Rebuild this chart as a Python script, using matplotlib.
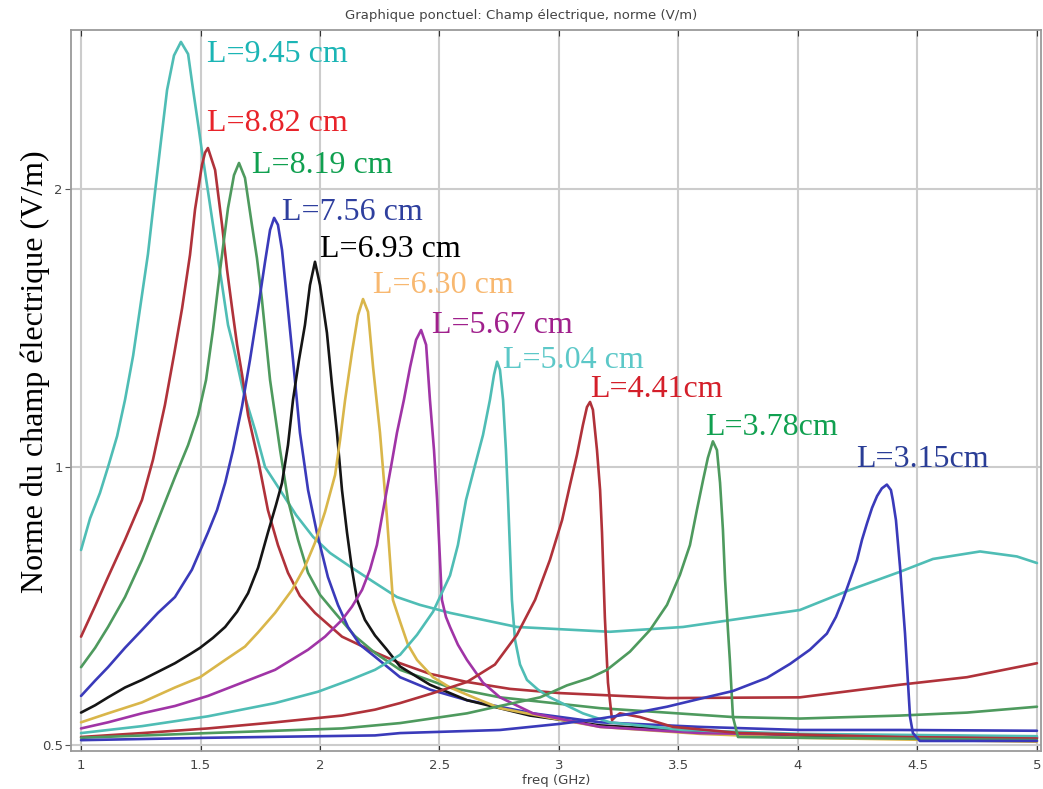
import matplotlib
matplotlib.use("Agg")
import matplotlib.pyplot as plt

# ---- data (freq in GHz, field norm in V/m) ----
f_945 = [1.000, 1.038, 1.079, 1.113, 1.151, 1.184, 1.218, 1.247, 1.280, 1.310, 1.335, 1.360, 1.389, 1.418,
         1.448, 1.469, 1.490, 1.510, 1.531, 1.552, 1.573, 1.594, 1.615, 1.636, 1.678, 1.728, 1.770, 1.833,
         1.900, 1.971, 2.042, 2.126, 2.230, 2.322, 2.418, 2.544, 2.824, 3.213, 3.519, 4.008, 4.218, 4.427,
         4.565, 4.762, 4.916, 5.000]
e_945 = [0.813, 0.880, 0.937, 1.000, 1.080, 1.182, 1.320, 1.486, 1.700, 1.990, 2.260, 2.560, 2.790, 2.886,
         2.800, 2.560, 2.350, 2.160, 1.990, 1.830, 1.685, 1.550, 1.425, 1.356, 1.210, 1.097, 1.000, 0.944,
         0.887, 0.840, 0.807, 0.780, 0.749, 0.723, 0.709, 0.695, 0.671, 0.663, 0.671, 0.700, 0.736, 0.770,
         0.795, 0.810, 0.800, 0.787]

f_882 = [1.000, 1.059, 1.113, 1.184, 1.255, 1.301, 1.351, 1.389, 1.423, 1.456, 1.477, 1.506, 1.519, 1.531,
         1.561, 1.590, 1.611, 1.632, 1.653, 1.674, 1.699, 1.741, 1.782, 1.824, 1.866, 1.916, 1.979, 2.092,
         2.230, 2.335, 2.460, 2.615, 2.795, 3.004, 3.452, 4.008, 4.427, 4.707, 5.000]
e_882 = [0.655, 0.707, 0.760, 0.834, 0.921, 1.018, 1.167, 1.322, 1.486, 1.697, 1.900, 2.123, 2.190, 2.215,
         2.097, 1.829, 1.635, 1.486, 1.356, 1.258, 1.138, 1.018, 0.898, 0.823, 0.768, 0.725, 0.695, 0.655,
         0.630, 0.613, 0.597, 0.585, 0.575, 0.569, 0.562, 0.563, 0.581, 0.592, 0.613]

f_819 = [1.000, 1.059, 1.113, 1.184, 1.255, 1.322, 1.393, 1.448, 1.490, 1.523, 1.552, 1.582, 1.615, 1.640,
         1.661, 1.686, 1.715, 1.736, 1.757, 1.791, 1.833, 1.866, 1.908, 1.950, 2.000, 2.063, 2.146, 2.230,
         2.335, 2.544, 2.753, 3.172, 3.728, 4.008, 4.427, 4.707, 5.000]
e_819 = [0.607, 0.637, 0.671, 0.723, 0.793, 0.876, 0.975, 1.056, 1.138, 1.242, 1.407, 1.635, 1.907, 2.070,
         2.134, 2.056, 1.829, 1.684, 1.517, 1.242, 1.043, 0.921, 0.834, 0.768, 0.727, 0.695, 0.656, 0.629,
         0.603, 0.577, 0.563, 0.548, 0.536, 0.534, 0.538, 0.542, 0.550]

f_756 = [1.000, 1.059, 1.113, 1.184, 1.255, 1.322, 1.393, 1.464, 1.531, 1.569, 1.603, 1.636, 1.674, 1.707,
         1.741, 1.770, 1.791, 1.808, 1.824, 1.841, 1.862, 1.887, 1.916, 1.950, 1.987, 2.033, 2.075, 2.117,
         2.167, 2.230, 2.335, 2.460, 2.615, 2.891, 3.172, 3.590, 4.008, 4.427, 5.000]
e_756 = [0.565, 0.587, 0.607, 0.637, 0.666, 0.695, 0.723, 0.774, 0.849, 0.898, 0.961, 1.043, 1.164, 1.306,
         1.486, 1.668, 1.806, 1.861, 1.829, 1.718, 1.517, 1.306, 1.089, 0.944, 0.849, 0.760, 0.709, 0.671,
         0.642, 0.623, 0.592, 0.574, 0.559, 0.541, 0.529, 0.523, 0.519, 0.519, 0.518]

f_693 = [1.000, 1.059, 1.113, 1.184, 1.255, 1.322, 1.393, 1.456, 1.498, 1.552, 1.603, 1.653, 1.699, 1.741,
         1.782, 1.816, 1.841, 1.866, 1.887, 1.912, 1.937, 1.958, 1.979, 2.000, 2.029, 2.050, 2.071, 2.092,
         2.113, 2.134, 2.155, 2.188, 2.230, 2.280, 2.335, 2.460, 2.615, 2.879, 3.172, 3.590, 4.008, 4.427,
         5.000]
e_693 = [0.542, 0.552, 0.563, 0.577, 0.588, 0.600, 0.613, 0.627, 0.637, 0.653, 0.671, 0.697, 0.730, 0.778,
         0.849, 0.910, 0.961, 1.056, 1.182, 1.306, 1.425, 1.574, 1.668, 1.574, 1.397, 1.227, 1.089, 0.944,
         0.849, 0.774, 0.718, 0.683, 0.657, 0.634, 0.608, 0.581, 0.559, 0.538, 0.525, 0.517, 0.510, 0.510,
         0.509]

f_630 = [1.000, 1.113, 1.255, 1.393, 1.498, 1.603, 1.686, 1.741, 1.812, 1.883, 1.937, 1.979, 2.021, 2.063,
         2.084, 2.105, 2.134, 2.159, 2.180, 2.201, 2.222, 2.251, 2.280, 2.305, 2.335, 2.368, 2.406, 2.473,
         2.544, 2.649, 2.753, 2.962, 3.172, 3.590, 4.008, 5.000]
e_630 = [0.529, 0.541, 0.556, 0.577, 0.592, 0.618, 0.639, 0.662, 0.695, 0.736, 0.780, 0.828, 0.894, 0.980,
         1.070, 1.182, 1.332, 1.460, 1.520, 1.472, 1.283, 1.089, 0.883, 0.718, 0.680, 0.642, 0.618, 0.592,
         0.577, 0.562, 0.548, 0.535, 0.523, 0.514, 0.509, 0.504]

f_567 = [1.000, 1.113, 1.255, 1.393, 1.531, 1.674, 1.812, 1.950, 2.021, 2.092, 2.134, 2.176, 2.209, 2.238,
         2.272, 2.297, 2.322, 2.351, 2.377, 2.402, 2.423, 2.444, 2.460, 2.477, 2.490, 2.502, 2.510, 2.527,
         2.544, 2.577, 2.615, 2.682, 2.753, 2.891, 3.172, 3.590, 4.008, 5.000]
e_567 = [0.521, 0.529, 0.541, 0.551, 0.565, 0.584, 0.603, 0.634, 0.655, 0.683, 0.706, 0.736, 0.774, 0.823,
         0.921, 1.000, 1.089, 1.182, 1.283, 1.373, 1.407, 1.356, 1.182, 1.043, 0.921, 0.793, 0.718, 0.688,
         0.671, 0.642, 0.618, 0.584, 0.563, 0.541, 0.523, 0.515, 0.513, 0.510]

f_504 = [1.000, 1.255, 1.531, 1.812, 1.992, 2.126, 2.230, 2.335, 2.406, 2.473, 2.544, 2.577, 2.611, 2.649,
         2.682, 2.711, 2.728, 2.741, 2.753, 2.766, 2.778, 2.787, 2.795, 2.803, 2.816, 2.837, 2.866, 2.912,
         2.962, 3.100, 3.213, 3.519, 4.008, 5.000]
e_504 = [0.515, 0.524, 0.537, 0.555, 0.571, 0.588, 0.603, 0.626, 0.658, 0.697, 0.763, 0.823, 0.921, 1.005,
         1.083, 1.182, 1.258, 1.300, 1.274, 1.182, 1.043, 0.921, 0.813, 0.718, 0.650, 0.611, 0.588, 0.574,
         0.563, 0.541, 0.529, 0.519, 0.514, 0.511]

f_441 = [1.000, 1.255, 1.531, 1.812, 2.092, 2.230, 2.335, 2.473, 2.615, 2.732, 2.824, 2.900, 2.962, 3.013,
         3.046, 3.075, 3.100, 3.117, 3.130, 3.142, 3.159, 3.172, 3.180, 3.192, 3.205, 3.222, 3.238, 3.255,
         3.339, 3.477, 3.757, 4.427, 5.000]
e_441 = [0.510, 0.515, 0.521, 0.529, 0.538, 0.546, 0.555, 0.569, 0.585, 0.611, 0.658, 0.718, 0.793, 0.876,
         0.956, 1.030, 1.110, 1.161, 1.176, 1.153, 1.043, 0.944, 0.849, 0.687, 0.584, 0.532, 0.537, 0.541,
         0.536, 0.523, 0.515, 0.510, 0.508]

f_378 = [1.000, 1.531, 2.092, 2.335, 2.615, 2.753, 2.921, 3.033, 3.130, 3.201, 3.297, 3.381, 3.452, 3.506,
         3.548, 3.577, 3.603, 3.623, 3.644, 3.661, 3.674, 3.686, 3.695, 3.707, 3.715, 3.728, 3.749, 4.008,
         4.427, 5.000]
e_378 = [0.509, 0.515, 0.521, 0.528, 0.541, 0.551, 0.563, 0.580, 0.591, 0.603, 0.631, 0.666, 0.709, 0.764,
         0.823, 0.898, 0.968, 1.023, 1.066, 1.043, 0.961, 0.855, 0.755, 0.666, 0.618, 0.536, 0.510, 0.509,
         0.508, 0.506]

f_315 = [1.000, 1.531, 2.230, 2.335, 2.753, 3.004, 3.172, 3.310, 3.452, 3.590, 3.728, 3.870, 3.967, 4.050,
         4.121, 4.159, 4.188, 4.218, 4.247, 4.268, 4.289, 4.310, 4.331, 4.351, 4.372, 4.389, 4.397, 4.410,
         4.427, 4.448, 4.469, 4.481, 4.510, 5.000]
e_315 = [0.506, 0.509, 0.512, 0.515, 0.519, 0.527, 0.534, 0.541, 0.550, 0.561, 0.572, 0.591, 0.612, 0.634,
         0.660, 0.688, 0.718, 0.755, 0.793, 0.834, 0.869, 0.903, 0.930, 0.948, 0.957, 0.944, 0.921, 0.876,
         0.780, 0.660, 0.536, 0.515, 0.505, 0.505]

series_f = [f_945, f_882, f_819, f_756, f_693, f_630, f_567, f_504, f_441, f_378, f_315]
series_e = [e_945, e_882, e_819, e_756, e_693, e_630, e_567, e_504, e_441, e_378, e_315]
line_colors = ["#4fbdb5", "#b0323a", "#4e9a5e", "#3a3aba", "#151515", "#d9b64a", "#a034a6",
               "#4fbdb5", "#b0323a", "#4e9a5e", "#3a3aba"]

labels = ["L=9.45 cm", "L=8.82 cm", "L=8.19 cm", "L=7.56 cm", "L=6.93 cm", "L=6.30 cm", "L=5.67 cm",
          "L=5.04 cm", "L=4.41cm", "L=3.78cm", "L=3.15cm"]
label_x = [1.527, 1.527, 1.715, 1.841, 2.000, 2.222, 2.469, 2.766, 3.130, 3.611, 4.243]
label_y = [2.745, 2.311, 2.082, 1.852, 1.688, 1.543, 1.397, 1.280, 1.191, 1.083, 1.000]
label_colors = ["#1bb5b5", "#e8232a", "#10a050", "#2e3f9e", "#000000", "#f8b870", "#a0208c",
                "#5cc8c8", "#d41f2a", "#10a050", "#2a3d96"]

xticks = [1, 1.5, 2, 2.5, 3, 3.5, 4, 4.5, 5]
xtick_labels = ["1", "1.5", "2", "2.5", "3", "3.5", "4", "4.5", "5"]
yticks = [0.5, 1, 2]
ytick_labels = ["0.5", "1", "2"]

# ---- figure ----
fig = plt.figure(figsize=(10.43, 7.89), dpi=100)
ax = fig.add_axes([71 / 1043, 1 - 751 / 789, (1041 - 71) / 1043, (751 - 30) / 789])
ax.set_yscale("log")
ax.set_xlim(0.958, 5.017)
ax.set_ylim(0.4925, 2.973)

for f, e, c in zip(series_f, series_e, line_colors):
    ax.plot(f, e, color=c, lw=1.9, solid_capstyle="round", solid_joinstyle="round", zorder=3)

for t, x, y, c in zip(labels, label_x, label_y, label_colors):
    ax.text(x, y, t, color=c, fontsize=23, family="Liberation Serif", ha="left", va="baseline", zorder=4)

ax.set_xticks(xticks)
ax.set_xticklabels(xtick_labels)
ax.set_yticks(yticks)
ax.set_yticklabels(ytick_labels)
ax.yaxis.set_minor_locator(matplotlib.ticker.NullLocator())
ax.grid(True, color="#cccccc", lw=1.5, zorder=0)
ax.set_axisbelow(True)
for s in ax.spines.values():
    s.set_color("#9a9a9a")
    s.set_linewidth(1.3)
ax.tick_params(axis="x", direction="in", top=True, length=4, color="#333333",
               labelsize=9.5, labelcolor="#444444", pad=6)
ax.tick_params(axis="y", direction="out", length=4, color="#555555",
               labelsize=9.5, labelcolor="#444444", pad=2)
ax.set_xlabel("freq (GHz)", fontsize=9.5, color="#444444", labelpad=1)

fig.text(35 / 1043, 1 - 372 / 789, "Norme du champ électrique (V/m)", rotation=90,
         family="Liberation Serif", fontsize=23, ha="center", va="center", color="#000000")
fig.text(0.5, 1 - 15 / 789, "Graphique ponctuel: Champ électrique, norme (V/m)",
         fontsize=9.5, color="#444444", ha="center", va="center")

fig.savefig("out.png", dpi=100)
